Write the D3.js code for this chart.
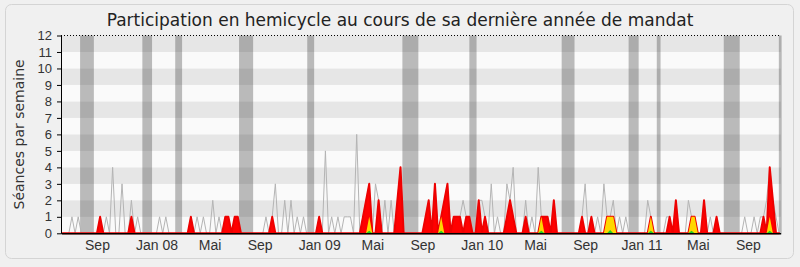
<!DOCTYPE html>
<html>
<head>
<meta charset="utf-8">
<script src="https://cdn.jsdelivr.net/npm/d3@7"></script>
<style>
  body { margin: 0; background: #f0f0f0; }
  svg { display: block; font-family: "DejaVu Sans", Verdana, sans-serif; }
</style>
</head>
<body>
<div id="chart"></div>
<script>
// séances de l'hémicycle par semaine (ligne grise)
const seances = [
  0,0,0,1,0,1,0,0,0,0, 0,0,1,0,1,0,4,0,0,3,
  0,0,2,0,1,0,0,0,0,0, 0,1,0,1,0,0,0,0,0,0,
  0,1,0,1,0,1,0,0,2,0, 1,0,1,1,0,1,1,0,0,0,
  0,0,0,0,0,1,0,1,3,0, 0,2,0,2,0,1,0,1,0,0,
  0,0,1,0,5,0,1,0,1,0, 1,1,1,0,6,0,1,2,3,0,
  3,2,0,2,0,2,0,2,4,0, 0,0,0,0,0,0,1,2,0,3,
  0,1,2,3,0,1,1,1,2,1, 1,0,0,2,2,1,0,3,0,1,
  0,0,3,2,4,0,0,0,2,0, 1,0,4,1,1,1,0,2,0,0,
  0,0,0,0,0,0,1,3,0,1, 0,1,0,3,1,1,2,0,1,0,
  1,0,0,0,0,0,0,2,1,0, 0,0,0,1,1,0,2,0,0,0,
  2,1,1,0,0,2,0,1,0,1, 0,0,0,0,0,0,0,0,1,0,
  0,1,0,1,1,2,4,2,1,0
];
// présences (rouge)
const presences = [
  0,0,0,0,0,0,0,0,0,0, 0,0,1,0,0,0,0,0,0,0,
  0,0,1,0,0,0,0,0,0,0, 0,0,0,0,0,0,0,0,0,0,
  0,1,0,0,0,0,0,0,0,0, 0,0,1,1,0,1,1,0,0,0,
  0,0,0,0,0,0,0,1,0,0, 0,0,0,0,0,0,0,0,0,0,
  0,0,1,0,0,0,0,0,0,0, 0,0,0,0,0,0,1,2,3,0,
  0,2,0,0,0,0,0,2,4,0, 0,0,0,0,0,0,1,2,0,3,
  0,1,2,3,0,1,1,1,0,1, 1,0,0,2,0,1,0,0,0,0,
  0,0,1,2,1,0,0,0,1,0, 0,0,0,1,1,1,0,2,0,0,
  0,0,0,0,0,0,1,0,0,1, 0,0,0,0,1,1,1,0,0,0,
  0,0,0,0,0,0,0,0,1,0, 0,0,0,0,1,0,2,0,0,0,
  0,1,1,0,0,2,0,0,0,1, 0,0,0,0,0,0,0,0,0,0,
  0,0,0,0,1,0,4,2,0,0
];
// interventions (jaune)
const interventions = [
  0,0,0,0,0,0,0,0,0,0, 0,0,0,0,0,0,0,0,0,0,
  0,0,0,0,0,0,0,0,0,0, 0,0,0,0,0,0,0,0,0,0,
  0,0,0,0,0,0,0,0,0,0, 0,0,0,0,0,0,0,0,0,0,
  0,0,0,0,0,0,0,0,0,0, 0,0,0,0,0,0,0,0,0,0,
  0,0,0,0,0,0,0,0,0,0, 0,0,0,0,0,0,0,0,1,0,
  0,0,0,0,0,0,0,0,0,0, 0,0,0,0,0,0,0,0,0,0,
  0,1,0,0,0,0,0,0,0,0, 0,0,0,0,0,0,0,0,0,0,
  0,0,0,0,0,0,0,0,0,0, 0,0,0,1,0,0,0,0,0,0,
  0,0,0,0,0,0,0,0,0,0, 0,0,0,0,1,1,1,0,0,0,
  0,0,0,0,0,0,0,0,1,0, 0,0,0,0,0,0,0,0,0,0,
  0,1,1,0,0,0,0,0,0,0, 0,0,0,0,0,0,0,0,0,0,
  0,0,0,0,0,0,1,0,0,0
];
// questions (vert)
const questions = [
  0,0,0,0,0,0,0,0,0,0, 0,0,0,0,0,0,0,0,0,0,
  0,0,0,0,0,0,0,0,0,0, 0,0,0,0,0,0,0,0,0,0,
  0,0,0,0,0,0,0,0,0,0, 0,0,0,0,0,0,0,0,0,0,
  0,0,0,0,0,0,0,0,0,0, 0,0,0,0,0,0,0,0,0,0,
  0,0,0,0,0,0,0,0,0,0, 0,0,0,0,0,0,0,0,0.15,0,
  0,0,0,0,0,0,0,0,0,0, 0,0,0,0,0,0,0,0,0,0,
  0,0.15,0,0,0,0,0,0,0,0, 0,0,0,0,0,0,0,0,0,0,
  0,0,0,0,0,0,0,0,0,0, 0,0,0,0.15,0,0,0,0,0,0,
  0,0,0,0,0,0,0,0,0,0, 0,0,0,0,0,0.2,0,0,0,0,
  0,0,0,0,0,0,0,0,0.15,0, 0,0,0,0,0,0,0,0,0,0,
  0,0.15,0,0,0,0,0,0,0,0, 0,0,0,0,0,0,0,0,0,0,
  0,0,0,0,0,0,0.15,0,0,0
];
// vacances parlementaires (début, fin) en semaines
const vacances = [
  [5.6, 10.0], [25.5, 28.6], [36.0, 38.2], [56.4, 60.9], [78.2, 80.4],
  [108.6, 113.7], [130.0, 132.3], [159.5, 163.6], [180.9, 184.1],
  [189.9, 191.1], [211.3, 216.4], [228.9, 229.8]
];
// étiquettes des mois
const moisSemaines = [11, 30, 47, 63, 82, 99, 115, 134, 151, 167, 185, 203, 219];
const moisLabels = ["Sep", "Jan 08", "Mai", "Sep", "Jan 09", "Mai", "Sep", "Jan 10", "Mai", "Sep", "Jan 11", "Mai", "Sep"];
const yMax = 12;

const width = 800, height = 267;
const margin = { top: 35.5, right: 19.3, bottom: 33.7, left: 61 };

const svg = d3.select("#chart").append("svg")
    .attr("width", width)
    .attr("height", height);

// cadre
svg.append("rect")
    .attr("x", 5.5).attr("y", 4.5)
    .attr("width", 788).attr("height", 254)
    .attr("rx", 6)
    .attr("fill", "none")
    .attr("stroke", "#d4d4d4");

svg.append("text")
    .attr("x", 400).attr("y", 26)
    .attr("text-anchor", "middle")
    .style("font-size", "17px")
    .style("fill", "#222")
    .text("Participation en hemicycle au cours de sa dernière année de mandat");

const x = d3.scaleLinear()
    .domain([-0.5, seances.length - 0.5])
    .range([margin.left, width - margin.right]);
const y = d3.scaleLinear()
    .domain([0, yMax])
    .range([height - margin.bottom, margin.top]);

const plot = svg.append("g");

// bandes horizontales
plot.selectAll("rect.bande")
    .data(d3.range(yMax))
    .join("rect")
    .attr("class", "bande")
    .attr("x", x.range()[0])
    .attr("width", x.range()[1] - x.range()[0])
    .attr("y", d => y(d + 1))
    .attr("height", d => y(d) - y(d + 1))
    .attr("fill", d => d % 2 ? "#e6e6e6" : "#fafafa");

// vacances
plot.selectAll("rect.vac")
    .data(vacances)
    .join("rect")
    .attr("class", "vac")
    .attr("x", d => x(d[0]))
    .attr("width", d => x(d[1]) - x(d[0]))
    .attr("y", y(yMax))
    .attr("height", y(0) - y(yMax))
    .attr("fill", "#282828")
    .attr("fill-opacity", 0.3);

// séances (ligne grise)
const line = d3.line().x((d, i) => x(i)).y(d => y(d));
plot.append("path")
    .datum(seances)
    .attr("d", line)
    .attr("fill", "none")
    .attr("stroke", "#b4b4b4")
    .attr("stroke-width", 1);

const area = d3.area().x((d, i) => x(i)).y0(y(0)).y1(d => y(d));

plot.append("path")
    .datum(presences)
    .attr("d", area)
    .attr("fill", "#ff0000")
    .attr("stroke", "#ee0000")
    .attr("stroke-width", 2)
    .attr("stroke-linejoin", "round");

plot.append("path")
    .datum(interventions)
    .attr("d", area)
    .attr("fill", "#ffd700");

plot.append("path")
    .datum(questions)
    .attr("d", area)
    .attr("fill", "#22cc22");

// ligne pointillée en haut
plot.append("line")
    .attr("x1", x.range()[0]).attr("x2", x.range()[1])
    .attr("y1", y(yMax)).attr("y2", y(yMax))
    .attr("stroke", "#000")
    .attr("stroke-dasharray", "1,2");

// axes
const yAxis = svg.append("g")
    .attr("transform", `translate(${margin.left},0)`)
    .call(d3.axisLeft(y).ticks(12).tickSize(4).tickSizeOuter(0).tickPadding(5));
yAxis.selectAll("text").style("font-size", "13px").style("fill", "#333");

const xAxis = svg.append("g")
    .attr("transform", `translate(0,${y(0)})`)
    .call(d3.axisBottom(x)
        .tickValues(moisSemaines)
        .tickFormat((d, i) => moisLabels[i])
        .tickSize(0)
        .tickSizeOuter(0)
        .tickPadding(7));
xAxis.selectAll("text").style("font-size", "14px").style("fill", "#333");
xAxis.select(".domain").attr("stroke-width", 1.5);

svg.append("text")
    .attr("transform", `translate(23.5,${(y(0) + y(yMax)) / 2}) rotate(-90)`)
    .attr("text-anchor", "middle")
    .style("font-size", "14px")
    .style("fill", "#333")
    .text("Séances par semaine");
</script>
</body>
</html>
